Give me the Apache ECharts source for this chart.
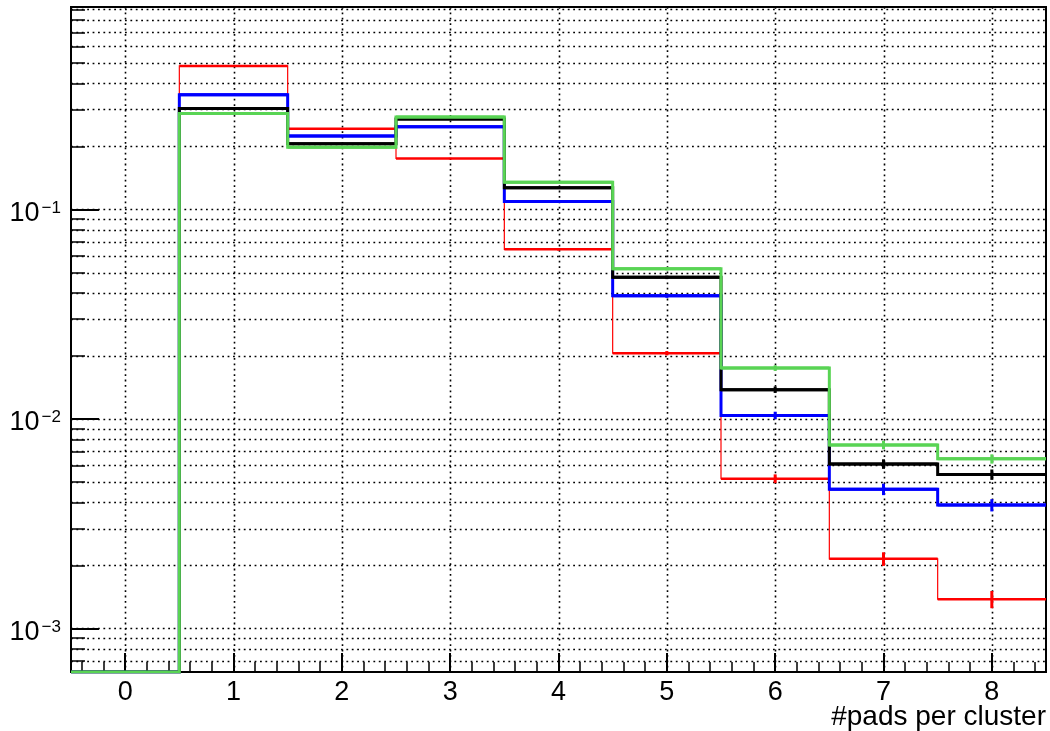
<!DOCTYPE html>
<html>
<head>
<meta charset="utf-8">
<script src="https://cdn.jsdelivr.net/npm/echarts@6/dist/echarts.min.js"></script>
<style>
  html, body { margin: 0; padding: 0; background: #fff; }
  #chart { width: 1050px; height: 731px; }
</style>
</head>
<body>
<div id="chart"></div>
<script>
// Bin centres of the #pads-per-cluster histogram
const bins = [0, 1, 2, 3, 4, 5, 6, 7, 8];

// Normalised bin contents for the four samples
const redVals   = [0, 0.484, 0.243, 0.175, 0.0645, 0.0206, 0.00519, 0.00215, 0.00138];
const blueVals  = [0, 0.353, 0.224, 0.248, 0.109, 0.0387, 0.0104, 0.00462, 0.00388];
const blackVals = [0, 0.303, 0.206, 0.270, 0.127, 0.0474, 0.0138, 0.0061, 0.00543];
const greenVals = [0, 0.287, 0.198, 0.276, 0.135, 0.0521, 0.0175, 0.00752, 0.00645];

// Statistical errors per bin
const redErrs   = [0, 0.0024, 0.0017, 0.0014, 0.00087, 0.00049, 0.00025, 0.00016, 0.00013];
const blueErrs  = [0, 0.0025, 0.0020, 0.0021, 0.0014, 0.00083, 0.00043, 0.00029, 0.00026];
const blackErrs = [0, 0.0023, 0.0019, 0.0022, 0.0015, 0.00090, 0.00049, 0.00032, 0.00031];
const greenErrs = [0, 0.0022, 0.0018, 0.0021, 0.0015, 0.00093, 0.00054, 0.00035, 0.00033];

// Axis ticks
const xMajorTicks = [0, 1, 2, 3, 4, 5, 6, 7, 8];
const xMinorTicks = [-0.4, -0.2, 0.2, 0.4, 0.6, 0.8, 1.2, 1.4, 1.6, 1.8, 2.2, 2.4, 2.6, 2.8,
                     3.2, 3.4, 3.6, 3.8, 4.2, 4.4, 4.6, 4.8, 5.2, 5.4, 5.6, 5.8, 6.2, 6.4, 6.6, 6.8,
                     7.2, 7.4, 7.6, 7.8, 8.2, 8.4];
const yMajorTicks = [0.001, 0.01, 0.1];
const yMinorTicks = [0.0007, 0.0008, 0.0009,
                     0.002, 0.003, 0.004, 0.005, 0.006, 0.007, 0.008, 0.009,
                     0.02, 0.03, 0.04, 0.05, 0.06, 0.07, 0.08, 0.09,
                     0.2, 0.3, 0.4, 0.5, 0.6, 0.7, 0.8, 0.9];

const X_MIN = -0.5, X_MAX = 8.5;
const Y_MIN = 6.2e-4, Y_MAX = 0.925;
const FONT = '"Liberation Sans", Arial, Helvetica, sans-serif';

// Empty bins sit on the lower frame edge of the log axis
function stepPath(vals) {
  const pts = [];
  vals.forEach((v, i) => {
    const y = v > 0 ? v : Y_MIN;
    pts.push([bins[i] - 0.5, y], [bins[i] + 0.5, y]);
  });
  return pts;
}

function histLine(name, vals, color, width, z) {
  return {
    name, type: 'line', data: stepPath(vals), showSymbol: false, symbol: 'none',
    lineStyle: { color, width, join: 'miter' }, z, silent: true, animation: false, clip: true
  };
}

// Bin tops and error bars drawn through the axis scales
function histErrors(vals, errs, color, topWidth, z) {
  return {
    type: 'custom', z, silent: true, animation: false, clip: true,
    data: bins.map((b, i) => [b, vals[i], errs[i]]),
    renderItem(params, api) {
      const b = api.value(0), v = api.value(1), e = api.value(2);
      if (!(v > 0)) return { type: 'group', children: [] };
      const l = api.coord([b - 0.5, v]);
      const r = api.coord([b + 0.5, v]);
      const lo = api.coord([b, v - e]);
      const hi = api.coord([b, v + e]);
      return {
        type: 'group',
        children: [
          { type: 'line', shape: { x1: l[0], y1: l[1], x2: r[0], y2: r[1] },
            style: { stroke: color, lineWidth: topWidth } },
          { type: 'line', shape: { x1: lo[0], y1: lo[1], x2: hi[0], y2: hi[1] },
            style: { stroke: color, lineWidth: 3 } }
        ]
      };
    }
  };
}

const gridDash = { stroke: '#000', lineWidth: 1.6, lineDash: [1.8, 3.6] };

const hGrid = {
  type: 'custom', z: 1, silent: true, animation: false,
  data: yMajorTicks.concat(yMinorTicks).map(v => [0, v]),
  renderItem(params, api) {
    const cs = params.coordSys;
    const y = Math.round(api.coord([0, api.value(1)])[1]) + 0.5;
    return { type: 'line', shape: { x1: cs.x, y1: y, x2: cs.x + cs.width, y2: y }, style: gridDash };
  }
};

const vGrid = {
  type: 'custom', z: 1, silent: true, animation: false,
  data: xMajorTicks.map(x => [x, Y_MIN]),
  renderItem(params, api) {
    const cs = params.coordSys;
    const x = Math.round(api.coord([api.value(0), Y_MIN])[0]) + 0.5;
    return { type: 'line', shape: { x1: x, y1: cs.y, x2: x, y2: cs.y + cs.height }, style: gridDash };
  }
};

const chart = echarts.init(document.getElementById('chart'), null, { renderer: 'canvas' });

chart.setOption({
  animation: false,
  backgroundColor: '#fff',
  title: {
    text: '#pads per cluster', right: 4, top: 703, padding: 0,
    textStyle: { fontFamily: FONT, fontSize: 28, fontWeight: 'normal', color: '#000' }
  },
  grid: {
    left: 71, top: 7, width: 975, height: 665,
    show: true, borderColor: '#000', borderWidth: 2, backgroundColor: 'transparent'
  },
  xAxis: [
    {
      type: 'value', min: X_MIN, max: X_MAX, position: 'bottom',
      axisLine: { show: true, onZero: false, lineStyle: { color: '#000', width: 2 } },
      axisTick: { show: true, inside: true, length: 19, customValues: xMajorTicks,
                  lineStyle: { color: '#000', width: 2 } },
      axisLabel: { customValues: xMajorTicks, color: '#000', fontFamily: FONT, fontSize: 27, margin: 7 },
      splitLine: { show: false }
    },
    {
      type: 'value', min: X_MIN, max: X_MAX, position: 'bottom',
      axisLine: { show: false, onZero: false },
      axisTick: { show: true, inside: true, length: 10, customValues: xMinorTicks,
                  lineStyle: { color: '#000', width: 1.5 } },
      axisLabel: { show: false },
      splitLine: { show: false }
    }
  ],
  yAxis: [
    {
      type: 'log', logBase: 10, min: Y_MIN, max: Y_MAX, position: 'left',
      axisLine: { show: true, onZero: false, lineStyle: { color: '#000', width: 2 } },
      axisTick: { show: true, inside: true, length: 28, customValues: yMajorTicks,
                  lineStyle: { color: '#000', width: 2 } },
      axisLabel: {
        customValues: yMajorTicks, margin: 10, color: '#000', padding: [8, 0, 0, 0],
        formatter: v => '{b|10}{s|\u2212' + Math.round(-Math.log10(v)) + '}',
        rich: {
          b: { fontFamily: FONT, fontSize: 27, lineHeight: 28, color: '#000' },
          s: { fontFamily: FONT, fontSize: 17, lineHeight: 10, verticalAlign: 'top', color: '#000', padding: [0, 0, 0, 2] }
        }
      },
      splitLine: { show: false }
    },
    {
      type: 'log', logBase: 10, min: Y_MIN, max: Y_MAX, position: 'left',
      axisLine: { show: false, onZero: false },
      axisTick: { show: true, inside: true, length: 14, customValues: yMinorTicks,
                  lineStyle: { color: '#000', width: 1.5 } },
      axisLabel: { show: false },
      splitLine: { show: false }
    }
  ],
  series: [
    hGrid,
    vGrid,
    histLine('red', redVals, '#ff0000', 1.2, 3),
    histErrors(redVals, redErrs, '#ff0000', 2.5, 3),
    histLine('blue', blueVals, '#0000ff', 3, 4),
    histErrors(blueVals, blueErrs, '#0000ff', 3, 4),
    histLine('black', blackVals, '#000000', 3, 5),
    histErrors(blackVals, blackErrs, '#000000', 3, 5),
    histLine('green', greenVals, '#59d454', 3, 6),
    histErrors(greenVals, greenErrs, '#59d454', 3, 6)
  ]
});
</script>
</body>
</html>
